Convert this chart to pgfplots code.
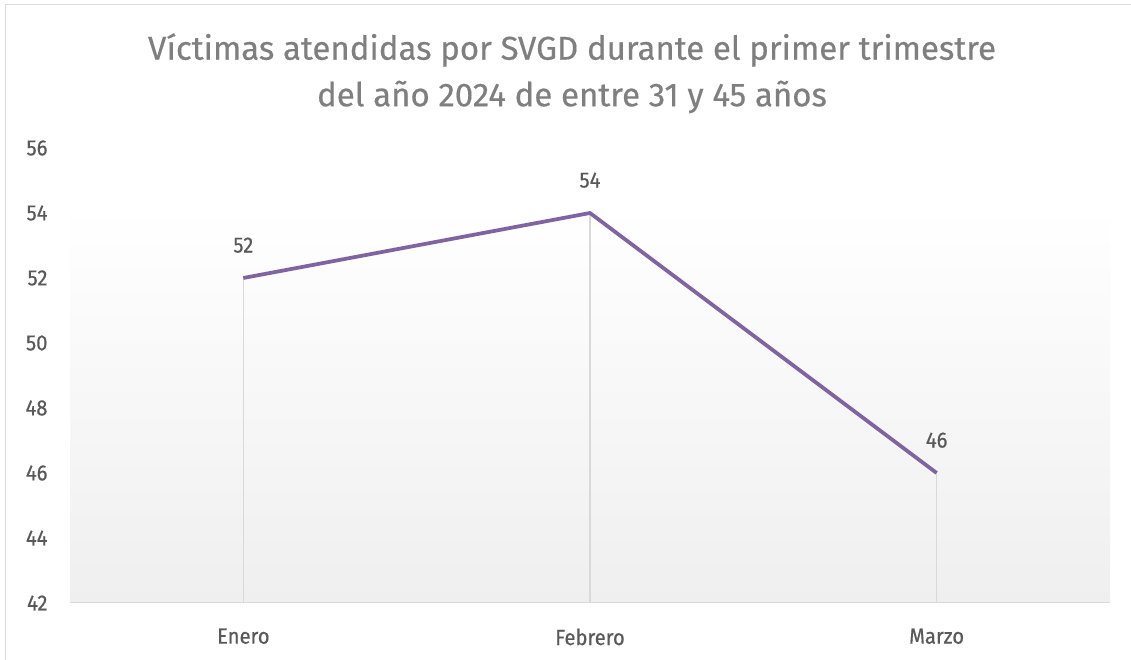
\documentclass[border=0pt]{standalone}
\usepackage{pgfplots}
\pgfplotsset{compat=1.18}
\usepackage{fontspec}
\setmainfont{Fira Sans}[FakeBold=0.4]
\newfontfamily\ticksfont{Fira Sans}[FakeStretch=0.92,FakeBold=0.4]
\definecolor{titlegray}{HTML}{7F7F7F}
\definecolor{ticktext}{HTML}{595959}
\definecolor{lineviolet}{HTML}{8064A2}
\definecolor{dropgray}{HTML}{D9D9D9}
\definecolor{framegray}{HTML}{D9D9D9}
\definecolor{bottomfill}{HTML}{EFEFEF}
\begin{document}
\begin{tikzpicture}[x=1bp,y=1bp]
\path[use as bounding box] (0,0) rectangle (1131,660);
\fill[white] (0,0) rectangle (1131,660);
\draw[framegray, line width=1.5bp] (5.5,0) -- (5.5,655.5) -- (1131,655.5);
\node[text=titlegray, font=\fontsize{33bp}{40bp}\selectfont, anchor=center] at (572,610) {Víctimas atendidas por SVGD durante el primer trimestre};
\node[text=titlegray, font=\fontsize{33bp}{40bp}\selectfont, anchor=center] at (572,563) {del año 2024 de entre 31 y 45 años};
\begin{axis}[
  at={(70bp,57bp)}, anchor=south west,
  scale only axis, width=1040bp, height=455bp,
  xmin=-0.5, xmax=2.5, ymin=42, ymax=56,
  xtick={0,1,2}, xticklabels={Enero,Febrero,Marzo},
  ytick={42,44,...,56},
  axis line style={draw=none},
  axis x line*=bottom,
  major tick length=0pt,
  tick style={draw=none},
  /pgf/number format/assume math mode=true,
  ticklabel style={text=ticktext, font=\ticksfont\fontsize{22bp}{26bp}\selectfont},
  yticklabel style={xshift=-19bp},
  xticklabel style={yshift=-22bp},
  clip=true,
]
\fill[top color=white, bottom color=bottomfill, draw=none] (axis cs:-0.5,42) rectangle (axis cs:2.5,54.2);
\draw[dropgray, line width=2bp] (axis cs:-0.5,42) -- (axis cs:2.5,42);
\addplot[ycomb, color=dropgray, line width=1.6bp, no marks] coordinates {(0,52) (1,54) (2,46)};
\addplot[color=lineviolet, line width=3.75bp, no marks, line join=round,
  nodes near coords, every node near coord/.append style={text=ticktext, font=\ticksfont\fontsize{22bp}{26bp}\selectfont, yshift=20bp, /pgf/number format/assume math mode=true}]
  coordinates {(0,52) (1,54) (2,46)};
\end{axis}
\end{tikzpicture}
\end{document}
